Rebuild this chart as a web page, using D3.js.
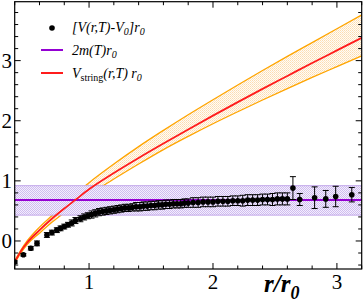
<!DOCTYPE html>
<html>
<head>
<meta charset="utf-8">
<script src="https://cdn.jsdelivr.net/npm/d3@7"></script>
<style>
  html, body { margin: 0; padding: 0; background: #fff; }
  svg { display: block; font-family: "Liberation Serif", "DejaVu Serif", serif; }
</style>
</head>
<body>
<svg id="chart" width="364" height="307"></svg>
<script>
// lattice data: [V(r,T)-V0] r0 vs r/r0
const rData = [0.40, 0.47, 0.53, 0.58, 0.66, 0.70, 0.74, 0.77, 0.80, 0.83, 0.86, 0.89, 0.93, 0.96, 0.99,
  1.02, 1.05, 1.08, 1.11, 1.14, 1.17, 1.20, 1.23, 1.26, 1.29, 1.32, 1.35, 1.38, 1.41, 1.44, 1.47, 1.50,
  1.53, 1.56, 1.59, 1.62, 1.65, 1.68, 1.71, 1.74, 1.77, 1.80, 1.84, 1.88, 1.92, 1.96, 2.00, 2.04, 2.08,
  2.12, 2.16, 2.20, 2.24, 2.28, 2.32, 2.36, 2.40, 2.44, 2.48, 2.52, 2.56, 2.60, 2.645, 2.70, 2.82, 2.91,
  2.99, 3.12];
const vData = [-0.35, -0.23, -0.12, -0.04, 0.10, 0.14, 0.18, 0.21, 0.24, 0.27, 0.30, 0.34, 0.37, 0.40, 0.42,
  0.44, 0.46, 0.48, 0.49, 0.50, 0.51, 0.52, 0.53, 0.54, 0.55, 0.55, 0.56, 0.57, 0.57, 0.58, 0.58, 0.59,
  0.59, 0.60, 0.60, 0.61, 0.61, 0.62, 0.62, 0.62, 0.63, 0.63, 0.64, 0.64, 0.65, 0.65, 0.65, 0.66, 0.66,
  0.66, 0.67, 0.67, 0.67, 0.68, 0.68, 0.68, 0.69, 0.69, 0.69, 0.70, 0.70, 0.70, 0.88, 0.69, 0.72, 0.70,
  0.74, 0.77];
const vErr = [0.02, 0.02, 0.03, 0.04, 0.04, 0.04, 0.04, 0.04, 0.04, 0.04, 0.05, 0.05, 0.05, 0.05, 0.05,
  0.06, 0.06, 0.06, 0.06, 0.06, 0.06, 0.06, 0.06, 0.06, 0.06, 0.06, 0.06, 0.07, 0.07, 0.07, 0.07, 0.07,
  0.07, 0.07, 0.07, 0.07, 0.07, 0.07, 0.07, 0.07, 0.07, 0.07, 0.08, 0.08, 0.08, 0.08, 0.08, 0.08, 0.08,
  0.08, 0.08, 0.08, 0.09, 0.09, 0.09, 0.09, 0.09, 0.09, 0.10, 0.10, 0.10, 0.10, 0.19, 0.10, 0.18, 0.14,
  0.17, 0.12];

// 2m(T) r0 : central value and band
const massLine = 0.68;
const massBand = [0.43, 0.92];

// string model V_string(r,T) r0 with its band
const rString = [0.40, 0.45, 0.50, 0.60, 0.70, 0.80, 0.90, 1.00, 1.20, 1.40, 1.60, 1.80, 2.00, 2.20, 2.40, 2.60, 2.80, 3.00, 3.20];
const vString = [-0.35, -0.17, -0.03, 0.18, 0.37, 0.54, 0.70, 0.86, 1.13, 1.38, 1.62, 1.855, 2.085, 2.31, 2.53, 2.745, 2.96, 3.17, 3.38];
const vStringHi = [-0.33, -0.15, 0.00, 0.23, 0.42, 0.61, 0.80, 0.97, 1.28, 1.57, 1.84, 2.10, 2.35, 2.595, 2.835, 3.07, 3.30, 3.53, 3.76];
const vStringLo = [-0.37, -0.20, -0.06, 0.13, 0.31, 0.47, 0.62, 0.77, 1.03, 1.28, 1.52, 1.74, 1.95, 2.15, 2.345, 2.535, 2.72, 2.90, 3.08];

const xTicks = [1, 2, 3];
const yTicks = [0, 1, 2, 3];

const svg = d3.select("#chart");
const pLeft = 14.7, pRight = 361.7, pTop = 1.7, pBottom = 269;

const x = d3.scaleLinear().domain([0.4, 3.2]).range([pLeft, pRight]);
const y = d3.scaleLinear().domain([-0.466, 3.98]).range([pBottom, pTop]);

// fill patterns
const defs = svg.append("defs");
const orangePat = defs.append("pattern").attr("id", "orangeDots")
  .attr("width", 2).attr("height", 2).attr("patternUnits", "userSpaceOnUse");
orangePat.append("rect").attr("width", 2).attr("height", 2).attr("fill", "#fffcf6");
orangePat.append("rect").attr("width", 1).attr("height", 1).attr("fill", "#fcdcb0");
orangePat.append("rect").attr("x", 1).attr("y", 1).attr("width", 1).attr("height", 1).attr("fill", "#fde6c6");

const purplePat = defs.append("pattern").attr("id", "purpleDots")
  .attr("width", 2).attr("height", 2).attr("patternUnits", "userSpaceOnUse");
purplePat.append("rect").attr("width", 2).attr("height", 2).attr("fill", "#f4effc");
purplePat.append("rect").attr("width", 1).attr("height", 1).attr("fill", "#cfbcf0");
purplePat.append("rect").attr("x", 1).attr("y", 1).attr("width", 1).attr("height", 1).attr("fill", "#cfbcf0");

defs.append("clipPath").attr("id", "plotClip")
  .append("rect").attr("x", pLeft).attr("y", pTop).attr("width", pRight - pLeft).attr("height", pBottom - pTop);

const plot = svg.append("g").attr("clip-path", "url(#plotClip)");

// orange band of the string model
const stringPts = rString.map((r, i) => ({ r, v: vString[i], hi: vStringHi[i], lo: vStringLo[i] }));
plot.append("path")
  .datum(stringPts)
  .attr("fill", "url(#orangeDots)")
  .attr("d", d3.area().x(d => x(d.r)).y0(d => y(d.lo)).y1(d => y(d.hi)).curve(d3.curveMonotoneX));
["hi", "lo"].forEach(k => {
  plot.append("path")
    .datum(stringPts)
    .attr("fill", "none")
    .attr("stroke", "#ffa500")
    .attr("stroke-width", 1.3)
    .attr("d", d3.line().x(d => x(d.r)).y(d => y(d[k])).curve(d3.curveMonotoneX));
});

// purple band for 2m(T) r0
plot.append("rect")
  .attr("x", pLeft).attr("width", pRight - pLeft)
  .attr("y", y(massBand[1])).attr("height", y(massBand[0]) - y(massBand[1]))
  .attr("fill", "url(#purpleDots)");
massBand.forEach(v => {
  plot.append("line")
    .attr("x1", pLeft).attr("x2", pRight).attr("y1", y(v)).attr("y2", y(v))
    .attr("stroke", "#c2a8ea").attr("stroke-width", 1);
});
plot.append("line")
  .attr("x1", pLeft).attr("x2", pRight).attr("y1", y(massLine)).attr("y2", y(massLine))
  .attr("stroke", "#9400d3").attr("stroke-width", 2);

// red string curve
plot.append("path")
  .datum(stringPts)
  .attr("fill", "none")
  .attr("stroke", "#ff1c1c")
  .attr("stroke-width", 1.8)
  .attr("d", d3.line().x(d => x(d.r)).y(d => y(d.v)).curve(d3.curveMonotoneX));

// lattice points with error bars
const pts = rData.map((r, i) => ({ r, v: vData[i], e: vErr[i] }));
const pg = plot.append("g").attr("stroke", "#000").attr("stroke-width", 1);
pts.forEach(d => {
  const cx = x(d.r), y1 = y(d.v + d.e), y2 = y(d.v - d.e);
  pg.append("line").attr("x1", cx).attr("x2", cx).attr("y1", y1).attr("y2", y2);
  pg.append("line").attr("x1", cx - 3).attr("x2", cx + 3).attr("y1", y1).attr("y2", y1);
  pg.append("line").attr("x1", cx - 3).attr("x2", cx + 3).attr("y1", y2).attr("y2", y2);
});
plot.append("g").selectAll("circle")
  .data(pts).join("circle")
  .attr("cx", d => x(d.r)).attr("cy", d => y(d.v)).attr("r", 2.8).attr("fill", "#000");

// axes (ticks on all four sides)
const tickLen = 6, minorLen = 3.5;
const axisG = svg.append("g").attr("stroke", "#000").attr("fill", "none");
axisG.append("rect").attr("x", pLeft).attr("y", pTop).attr("width", pRight - pLeft).attr("height", pBottom - pTop)
  .attr("stroke-width", 1.2);
d3.range(0.4, 3.2001, 0.2).forEach(t => {
  const isMajor = Math.abs(t - Math.round(t)) < 1e-6;
  const len = isMajor ? tickLen : minorLen;
  axisG.append("line").attr("x1", x(t)).attr("x2", x(t)).attr("y1", pBottom).attr("y2", pBottom - len);
  axisG.append("line").attr("x1", x(t)).attr("x2", x(t)).attr("y1", pTop).attr("y2", pTop + len);
});
d3.range(-0.4, 3.9801, 0.2).forEach(t => {
  const isMajor = Math.abs(t - Math.round(t)) < 1e-6;
  const len = isMajor ? tickLen : minorLen;
  axisG.append("line").attr("x1", pLeft).attr("x2", pLeft + len).attr("y1", y(t)).attr("y2", y(t));
  axisG.append("line").attr("x1", pRight).attr("x2", pRight - len).attr("y1", y(t)).attr("y2", y(t));
});

svg.append("g").selectAll("text").data(xTicks).join("text")
  .attr("x", d => x(d)).attr("y", 289)
  .attr("text-anchor", "middle").attr("font-size", 21)
  .text(d => d);
svg.append("g").selectAll("text").data(yTicks).join("text")
  .attr("x", 12).attr("y", d => y(d) + 7)
  .attr("text-anchor", "end").attr("font-size", 21)
  .text(d => d);

// axis title r/r0
const xt = svg.append("text").attr("x", 264).attr("y", 292)
  .attr("font-size", 25).attr("font-style", "italic").attr("font-weight", "bold");
xt.append("tspan").text("r/r");
xt.append("tspan").attr("font-size", 18).attr("dy", 7).text("0");

// legend
const lg = svg.append("g").attr("font-size", 14).attr("font-style", "italic");
lg.append("circle").attr("cx", 52).attr("cy", 28).attr("r", 2.8).attr("fill", "#000");
const t1 = lg.append("text").attr("x", 72).attr("y", 32);
t1.append("tspan").text("[V(r,T)-V");
t1.append("tspan").attr("font-size", 10).attr("dy", 3).text("0");
t1.append("tspan").attr("dy", -3).text("]r");
t1.append("tspan").attr("font-size", 10).attr("dy", 3).text("0");

lg.append("line").attr("x1", 41).attr("x2", 63).attr("y1", 50).attr("y2", 50)
  .attr("stroke", "#9400d3").attr("stroke-width", 2);
const t2 = lg.append("text").attr("x", 72).attr("y", 55);
t2.append("tspan").text("2m(T)r");
t2.append("tspan").attr("font-size", 10).attr("dy", 3).text("0");

lg.append("line").attr("x1", 41).attr("x2", 63).attr("y1", 73).attr("y2", 73)
  .attr("stroke", "#ff1c1c").attr("stroke-width", 2);
const t3 = lg.append("text").attr("x", 72).attr("y", 78);
t3.append("tspan").text("V");
t3.append("tspan").attr("font-size", 10).attr("font-style", "normal").attr("dy", 3).text("string");
t3.append("tspan").attr("dy", -3).text("(r,T) r");
t3.append("tspan").attr("font-size", 10).attr("dy", 3).text("0");
</script>
</body>
</html>
